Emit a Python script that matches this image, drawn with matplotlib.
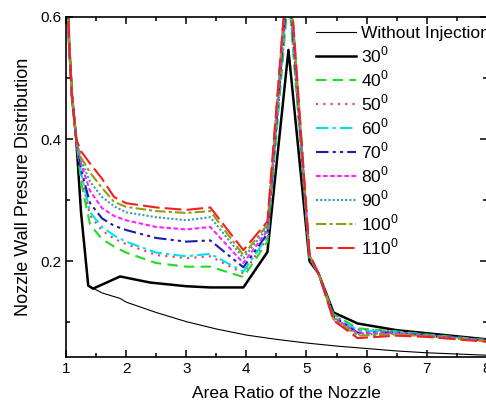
import numpy as np

import matplotlib
matplotlib.use("Agg")
import matplotlib.pyplot as plt
from matplotlib.ticker import MultipleLocator


def InitializeMatplotLib():
    matplotlib.rc('font', family=['Liberation Sans', 'DejaVu Sans'], size=11)
    matplotlib.rc('mathtext', fontset='custom', rm='Liberation Sans')
    matplotlib.rc('axes', linewidth=1.2)
    matplotlib.rc('lines', linewidth=1.5)


# Data.
X_BASE = [1.0, 1.05, 1.1, 1.17, 1.25, 1.37, 1.6, 1.8, 1.9, 2.0, 2.5, 3.0,
          3.5, 4.0, 4.5, 5.0, 5.5, 6.0, 6.5, 7.0, 7.5, 8.0]
WITHOUT_INJECTION = [0.85, 0.56, 0.47, 0.40, 0.28, 0.16, 0.148, 0.142, 0.139,
                     0.133, 0.116, 0.101, 0.089, 0.079, 0.072, 0.066, 0.061,
                     0.057, 0.053, 0.050, 0.048, 0.046]

X_30 = [1.0, 1.05, 1.1, 1.17, 1.25, 1.37, 1.45, 1.9, 2.4, 3.0, 3.4, 3.95,
        4.35, 4.7, 5.05, 5.2, 5.45, 5.85, 6.5, 7.0, 8.0]
ANGLE_30 = [0.85, 0.56, 0.47, 0.40, 0.28, 0.16, 0.155, 0.175, 0.165, 0.159,
            0.157, 0.157, 0.215, 0.546, 0.2, 0.18, 0.116, 0.098, 0.087,
            0.082, 0.072]

X_KNOTS = [1.0, 1.05, 1.1, 1.17, 1.25, 1.4, 1.6, 1.8, 2.0, 2.5, 3.0, 3.4,
           3.95, 4.35, 4.7, 5.05, 5.2, 5.45, 5.85, 6.5, 7.0, 8.0]
ANGLE_40 = [0.85, 0.56, 0.47, 0.40, 0.33, 0.26, 0.236, 0.224, 0.214, 0.197,
            0.191, 0.191, 0.174, 0.232, 0.64, 0.205, 0.18, 0.113, 0.090,
            0.085, 0.080, 0.071]
ANGLE_50 = [0.85, 0.56, 0.47, 0.40, 0.34, 0.275, 0.25, 0.237, 0.228, 0.210,
            0.205, 0.208, 0.180, 0.238, 0.65, 0.205, 0.18, 0.112, 0.088,
            0.085, 0.079, 0.071]
ANGLE_60 = [0.85, 0.56, 0.47, 0.40, 0.345, 0.28, 0.256, 0.242, 0.232, 0.214,
            0.208, 0.212, 0.183, 0.240, 0.66, 0.206, 0.18, 0.110, 0.087,
            0.084, 0.079, 0.070]
ANGLE_70 = [0.85, 0.56, 0.47, 0.40, 0.35, 0.295, 0.27, 0.258, 0.251, 0.238,
            0.232, 0.234, 0.190, 0.245, 0.67, 0.207, 0.18, 0.109, 0.083,
            0.083, 0.078, 0.070]
ANGLE_80 = [0.85, 0.56, 0.47, 0.40, 0.36, 0.315, 0.287, 0.274, 0.267, 0.256,
            0.252, 0.256, 0.197, 0.250, 0.68, 0.208, 0.18, 0.108, 0.082,
            0.082, 0.078, 0.070]
ANGLE_90 = [0.85, 0.56, 0.47, 0.40, 0.365, 0.33, 0.305, 0.290, 0.280, 0.272,
            0.267, 0.272, 0.205, 0.255, 0.69, 0.209, 0.18, 0.106, 0.080,
            0.081, 0.077, 0.069]
ANGLE_100 = [0.85, 0.56, 0.47, 0.40, 0.37, 0.345, 0.320, 0.297, 0.289, 0.282,
             0.279, 0.282, 0.210, 0.260, 0.70, 0.210, 0.18, 0.105, 0.078,
             0.080, 0.077, 0.069]
ANGLE_110 = [0.85, 0.56, 0.47, 0.40, 0.38, 0.36, 0.335, 0.305, 0.295, 0.288,
             0.284, 0.288, 0.218, 0.265, 0.70, 0.212, 0.18, 0.103, 0.074,
             0.078, 0.076, 0.068]

LEGEND_LABELS = ["Without Injection", "30$^\\mathregular{0}$",
                 "40$^\\mathregular{0}$", "50$^\\mathregular{0}$",
                 "60$^\\mathregular{0}$", "70$^\\mathregular{0}$",
                 "80$^\\mathregular{0}$", "90$^\\mathregular{0}$",
                 "100$^\\mathregular{0}$", "110$^\\mathregular{0}$"]


def PlotPressure():
    fig = plt.figure(figsize=(4.86, 4.03), dpi=100)
    ax = fig.add_axes([0.1358, 0.114, 0.866, 0.844])

    ax.plot(X_BASE, WITHOUT_INJECTION, color='black', lw=0.8,
            label=LEGEND_LABELS[0])
    ax.plot(X_30, ANGLE_30, color='black', lw=1.8, label=LEGEND_LABELS[1])

    styles = [
        (ANGLE_40, '#22dd22', (0, (5, 3))),
        (ANGLE_50, '#e04848', (0, (1, 2.5))),
        (ANGLE_60, '#00e0ee', (0, (6, 2, 1.5, 2))),
        (ANGLE_70, '#1c1ca8', (0, (6, 2, 1.5, 2, 1.5, 2))),
        (ANGLE_80, '#ff22ff', (0, (2.2, 1.2))),
        (ANGLE_90, '#3b9aa8', (0, (1, 1))),
        (ANGLE_100, '#9a9a10', (0, (5, 1.5, 1.5, 1.5))),
        (ANGLE_110, '#ee2222', (0, (8, 2.5))),
    ]
    for (values, color, dash), label in zip(styles, LEGEND_LABELS[2:]):
        ax.plot(X_KNOTS, values, color=color, linestyle=dash, label=label)

    ax.set_xlim(1, 8)
    ax.set_ylim(0.043, 0.6)
    ax.xaxis.set_major_locator(MultipleLocator(1))
    ax.xaxis.set_minor_locator(MultipleLocator(0.5))
    ax.yaxis.set_major_locator(MultipleLocator(0.2))
    ax.yaxis.set_minor_locator(MultipleLocator(0.1))
    ax.tick_params(which='both', direction='in', top=True, right=True,
                   labelsize=11)
    ax.tick_params(which='major', length=5, width=1.1)
    ax.tick_params(which='minor', length=3, width=1.1)

    ax.set_xlabel("Area Ratio of the Nozzle", fontsize=12.5)
    ax.xaxis.set_label_coords(0.523, -0.085)
    ax.set_ylabel("Nozzle Wall Presure Distribution", fontsize=13,
                  labelpad=6)

    ax.legend(loc='upper left', bbox_to_anchor=(0.565, 1.01), frameon=False,
              fontsize=12.5, handlelength=2.3, handletextpad=0.3,
              labelspacing=0.2, borderaxespad=0.3)

    fig.savefig("out.png", dpi=100)


# Main.
if __name__ == "__main__":
    InitializeMatplotLib()
    PlotPressure()
